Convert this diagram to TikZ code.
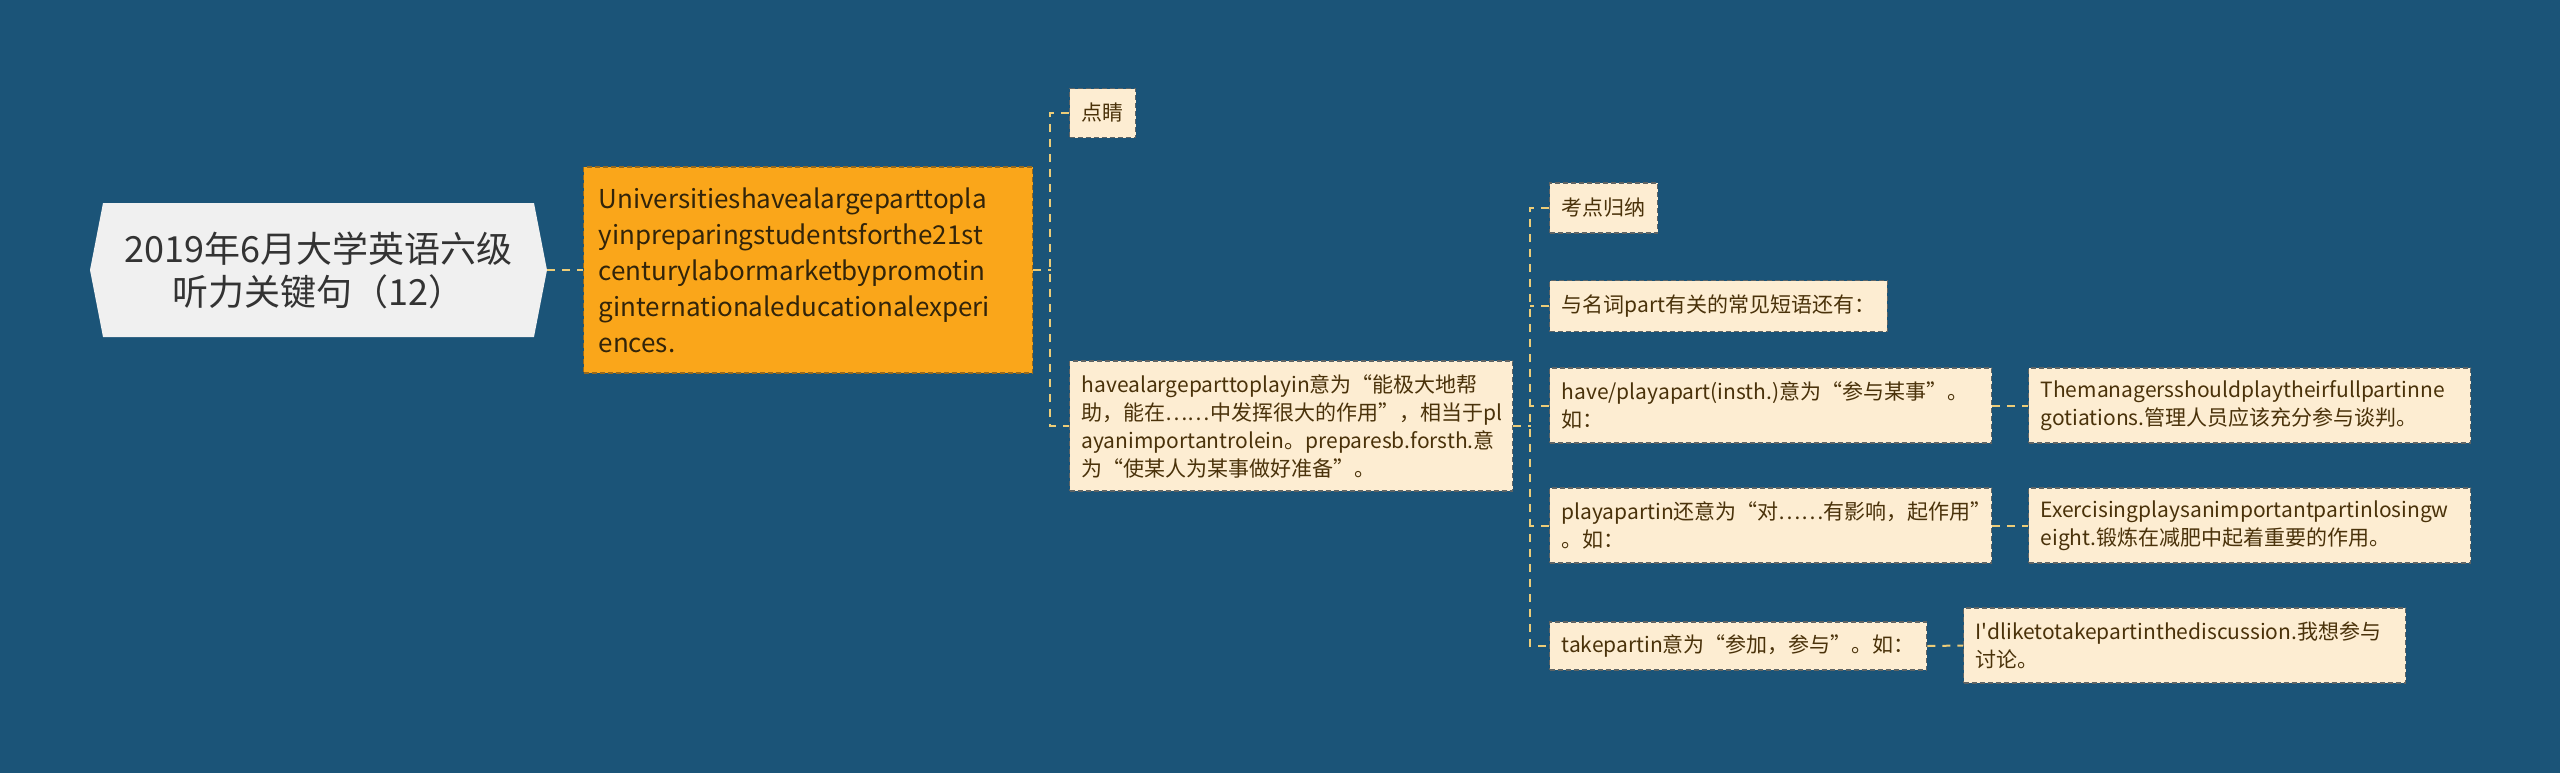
\documentclass[tikz,border=0pt]{standalone}
\usepackage{fontspec}
\setmainfont{Noto Sans CJK SC}
\usetikzlibrary{shapes.symbols}
\hyphenpenalty=10000
\exhyphenpenalty=10000
\definecolor{bgblue}{RGB}{27,84,120}
\definecolor{rootgray}{RGB}{240,240,240}
\definecolor{roottext}{RGB}{51,51,51}
\definecolor{orangefill}{RGB}{250,166,26}
\definecolor{orangeborder}{RGB}{150,105,30}
\definecolor{orangetext}{RGB}{50,36,10}
\definecolor{creamfill}{RGB}{253,237,210}
\definecolor{leafborder}{RGB}{95,100,100}
\definecolor{leaftext}{RGB}{74,50,10}
\definecolor{linkgold}{RGB}{236,204,120}
\begin{document}
\begin{tikzpicture}[x=0.5pt,y=-0.5pt,
  link/.style={linkgold, line width=1pt, dash pattern=on 4pt off 3.5pt},
  leaf/.style={fill=creamfill, draw=leafborder, line width=0.6pt,
    dash pattern=on 2.5pt off 1.5pt, text=leaftext,
    font=\fontsize{10.5}{14}\selectfont, align=left, inner xsep=6pt, anchor=west}]
\fill[bgblue] (0,0) rectangle (2560,773);

\node[signal, signal to=east and west, signal pointer angle=158, fill=rootgray,
  minimum width=228.5pt, minimum height=67pt, text=roottext,
  font=\fontsize{18}{21.5}\selectfont, align=center] (root) at (318.5,270)
  {2019年6月大学英语六级\\听力关键句（12）};
\node[fill=orangefill, draw=orangeborder, line width=0.6pt, dash pattern=on 2.5pt off 1.5pt,
  text=orangetext, font=\fontsize{13}{18}\selectfont, text width=209.5pt, align=left,
  inner xsep=7.5pt, minimum height=103pt, anchor=west] (sentence) at (583,270)
  {Universitieshavealargeparttopla\\yinpreparingstudentsforthe21st\\centurylabormarketbypromotin\\ginternationaleducationalexperi\\ences.};

\node[leaf, minimum height=24.5pt] (dianjing) at (1069,113) {点睛};
\node[leaf, text width=209.5pt, minimum height=65pt] (note) at (1069,426)
  {havealargeparttoplayin意为“能极大地帮\\助，能在……中发挥很大的作用”，相当于pl\\ayanimportantrolein。preparesb.forsth.意\\为“使某人为某事做好准备”。};

\node[leaf, minimum height=25pt] (kaodian) at (1549,208) {考点归纳};
\node[leaf, minimum height=25.5pt] (phrases) at (1549,306) {与名词part有关的常见短语还有：};
\node[leaf, text width=209pt, minimum height=37.5pt] (haveplay) at (1549,405.5)
  {have/playapart(insth.)意为“参与某事”。\\如：};
\node[leaf, text width=209pt, minimum height=37.5pt] (playin) at (1549,525.5)
  {playapartin还意为“对……有影响，起作用”\\。如：};
\node[leaf, minimum height=24pt] (takepart) at (1549,646) {takepartin意为“参加，参与”。如：};

\node[leaf, text width=209pt, minimum height=37.5pt] (managers) at (2028,405.5)
  {Themanagersshouldplaytheirfullpartinne\\gotiations.管理人员应该充分参与谈判。};
\node[leaf, text width=209pt, minimum height=37.5pt] (exercising) at (2028,525.5)
  {Exercisingplaysanimportantpartinlosingw\\eight.锻炼在减肥中起着重要的作用。};
\node[leaf, text width=209pt, minimum height=37.5pt] (idlike) at (1963,645.5)
  {I\textquotesingle dliketotakepartinthediscussion.我想参与\\讨论。};

% connectors
\draw[link] (root.east) -- (sentence.west);
\draw[link] (sentence.east) -- ++(18,0);
\draw[link] (dianjing.west) -- ++(-19,0) |- (note.west);
\draw[link] (note.east) -- ++(18,0);
\draw[link] (kaodian.west) -- ++(-19,0) |- (takepart.west);
\foreach \n in {phrases,haveplay,playin}
  \draw[link] (\n.west) -- ++(-19,0);
\foreach \a/\b in {haveplay/managers,playin/exercising,takepart/idlike}
  \draw[link] (\a.east) -- (\b.west);

\end{tikzpicture}
\end{document}
